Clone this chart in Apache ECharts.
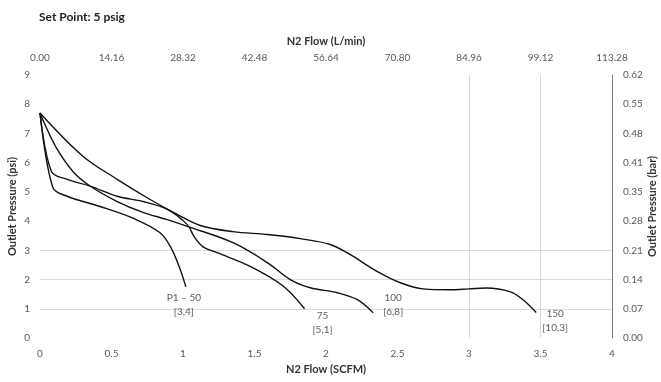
<!DOCTYPE html>
<html><head><meta charset="utf-8">
<script src="https://cdn.jsdelivr.net/npm/echarts@6/dist/echarts.min.js"></script>
<style>html,body{margin:0;padding:0;background:#fff}#c{width:661px;height:382px}</style>
</head><body><div id="c"></div>
<script>
// Data (x = N2 flow in SCFM, y = outlet pressure in psi)
const curve50 = [[0,7.7],[0.09,5.15],[0.19,4.85],[0.42,4.5],[0.65,4.1],[0.84,3.6],[0.92,3.05],[0.98,2.35],[1.02,1.75]];
const curve75 = [[0,7.7],[0.08,5.7],[0.19,5.43],[0.35,5.2],[0.54,4.85],[0.72,4.67],[0.89,4.4],[1.03,3.88],[1.08,3.45],[1.14,3.12],[1.24,2.92],[1.47,2.45],[1.70,1.78],[1.85,1.0]];
const curve100 = [[0,7.7],[0.035,7.3],[0.12,6.46],[0.23,5.7],[0.35,5.2],[0.54,4.67],[0.72,4.3],[0.89,4.05],[1.03,3.82],[1.35,3.26],[1.59,2.58],[1.75,2.0],[1.89,1.72],[2.08,1.55],[2.22,1.31],[2.33,0.86]];
const curve150 = [[0,7.7],[0.3,6.22],[0.54,5.43],[0.77,4.74],[0.96,4.23],[1.12,3.85],[1.35,3.64],[1.59,3.54],[1.82,3.4],[2.03,3.2],[2.17,2.85],[2.36,2.27],[2.52,1.89],[2.68,1.68],[2.87,1.65],[3.0,1.68],[3.12,1.71],[3.29,1.58],[3.38,1.3],[3.47,0.87]];
const curveLabels = ['P1 \u2013 50\n[3,4]', '75\n[5,1]', '100\n[6,8]', '150\n[10,3]'];
const bottomTicks = ['0','0.5','1','1.5','2','2.5','3','3.5','4'];
const topTicks = ['0.00','14.16','28.32','42.48','56.64','70.80','84.96','99.12','113.28'];
const rightTicks = ['0.00','0.07','0.14','0.21','0.28','0.35','0.41','0.48','0.55','0.62'];

const curves = [curve50, curve75, curve100, curve150];
const labelOffsets = [[-2, 18], [18, 14], [20, -8], [19, 8]];
const FONT = 'Lato, "Open Sans", sans-serif';
const tickColor = '#595959';
const nameStyle = {fontFamily: FONT, fontSize: 11, fontWeight: 'bold', color: '#333'};
const G = '#d9d9d9', T = 'rgba(0,0,0,0)';

const chart = echarts.init(document.getElementById('c'), null, {renderer: 'canvas'});
const lineSeries = curves.map(c => ({
  type: 'line', xAxisIndex: 0, yAxisIndex: 0, data: c, smooth: 0.35,
  showSymbol: false, symbol: 'none', silent: true,
  lineStyle: {color: '#111', width: 1.4}
}));
const labelSeries = {
  type: 'scatter', xAxisIndex: 0, yAxisIndex: 0, symbolSize: 0, silent: true,
  data: curves.map((c, i) => ({
    value: c[c.length - 1],
    label: {show: true, position: 'inside', offset: labelOffsets[i], formatter: curveLabels[i],
      color: '#333', fontFamily: FONT, fontSize: 10, lineHeight: 14, align: 'center'}
  }))
};

chart.setOption({
  animation: false,
  title: {text: 'Set Point: 5 psig', left: 34, top: 6,
    textStyle: {fontFamily: FONT, fontSize: 12, fontWeight: 'bold', color: '#222'}},
  grid: {left: 40, right: 49, top: 75, bottom: 44, containLabel: false, outerBoundsMode: 'none'},
  xAxis: [{
    type: 'value', position: 'bottom', min: 0, max: 4, interval: 0.5,
    name: 'N2 Flow (SCFM)', nameLocation: 'middle', nameGap: 25, nameTextStyle: nameStyle,
    axisLine: {show: false, onZero: false}, axisTick: {show: false},
    axisLabel: {margin: 11, color: tickColor, fontFamily: FONT, fontSize: 10,
      formatter: (v) => bottomTicks[Math.round(v / 0.5)]},
    splitLine: {show: true, lineStyle: {color: [T,T,T,T,T,T,G,G,T], width: 1}}
  }, {
    type: 'value', position: 'top', min: 0, max: 4, interval: 0.5,
    name: 'N2 Flow (L/min)', nameLocation: 'middle', nameGap: 28, nameTextStyle: nameStyle,
    axisLine: {show: false, onZero: false}, axisTick: {show: false},
    axisLabel: {margin: 12, color: tickColor, fontFamily: FONT, fontSize: 10,
      formatter: (v) => topTicks[Math.round(v / 0.5)]},
    splitLine: {show: false}
  }],
  yAxis: [{
    type: 'value', position: 'left', min: 0, max: 9, interval: 1,
    name: 'Outlet Pressure (psi)', nameLocation: 'middle', nameGap: 22, nameMoveOverlap: false,
    nameTextStyle: nameStyle,
    axisLine: {show: false, onZero: false}, axisTick: {show: false},
    axisLabel: {margin: 10, color: tickColor, fontFamily: FONT, fontSize: 10},
    splitLine: {show: true, lineStyle: {color: [T,G,G,G,T,T,T,T,T,T], width: 1}}
  }, {
    type: 'value', position: 'right', min: 0, max: 9, interval: 1,
    name: 'Outlet Pressure (bar)', nameLocation: 'middle', nameGap: 35, nameMoveOverlap: false,
    nameTextStyle: nameStyle,
    axisLine: {show: true, onZero: false, lineStyle: {color: '#7f7f7f', width: 1}}, axisTick: {show: false},
    axisLabel: {margin: 11, color: tickColor, fontFamily: FONT, fontSize: 10,
      formatter: (v) => rightTicks[Math.round(v)]},
    splitLine: {show: false}
  }],
  series: [...lineSeries, labelSeries]
});
</script></body></html>
